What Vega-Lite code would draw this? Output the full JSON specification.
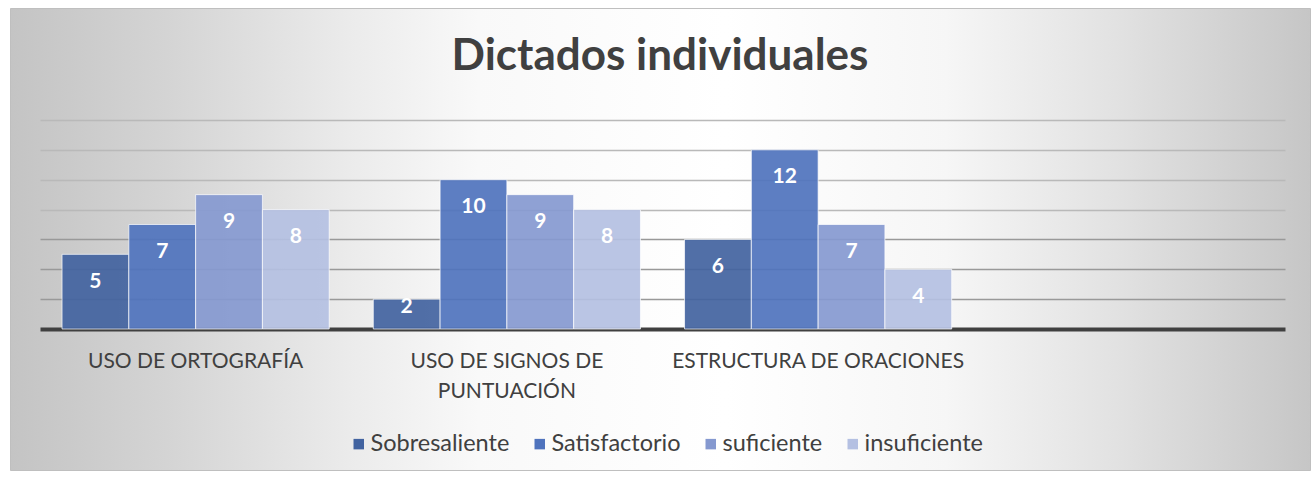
{
  "$schema": "https://vega.github.io/schema/vega-lite/v6.json",
  "width": 1300,
  "height": 462,
  "autosize": {"type": "none"},
  "padding": {"left": 10, "top": 8, "right": 5, "bottom": 7},
  "background": "white",
  "title": {
    "text": "Dictados individuales",
    "anchor": "middle",
    "frame": "group",
    "baseline": "alphabetic",
    "offset": -106,
    "font": "Lato",
    "fontSize": 44,
    "fontWeight": "bold",
    "color": "#404040"
  },
  "config": {
    "font": "Lato",
    "view": {
      "stroke": "#bfbfbf",
      "strokeWidth": 1,
      "fill": {
        "gradient": "linear",
        "x1": 0, "y1": 0.5, "x2": 1, "y2": 0.5,
        "stops": [
          {"offset": 0, "color": "#c4c4c4"},
          {"offset": 0.12, "color": "#d4d4d4"},
          {"offset": 0.26, "color": "#ebebeb"},
          {"offset": 0.36, "color": "#f9f9f9"},
          {"offset": 0.55, "color": "#ffffff"},
          {"offset": 0.72, "color": "#f6f6f6"},
          {"offset": 0.85, "color": "#e2e2e2"},
          {"offset": 1, "color": "#c6c6c6"}
        ]
      }
    }
  },
  "data": {
    "values": [
      {"categoria": "USO DE ORTOGRAFÍA", "nivel": "Sobresaliente", "valor": 5},
      {"categoria": "USO DE ORTOGRAFÍA", "nivel": "Satisfactorio", "valor": 7},
      {"categoria": "USO DE ORTOGRAFÍA", "nivel": "suficiente", "valor": 9},
      {"categoria": "USO DE ORTOGRAFÍA", "nivel": "insuficiente", "valor": 8},
      {"categoria": "USO DE SIGNOS DE PUNTUACIÓN", "nivel": "Sobresaliente", "valor": 2},
      {"categoria": "USO DE SIGNOS DE PUNTUACIÓN", "nivel": "Satisfactorio", "valor": 10},
      {"categoria": "USO DE SIGNOS DE PUNTUACIÓN", "nivel": "suficiente", "valor": 9},
      {"categoria": "USO DE SIGNOS DE PUNTUACIÓN", "nivel": "insuficiente", "valor": 8},
      {"categoria": "ESTRUCTURA DE ORACIONES", "nivel": "Sobresaliente", "valor": 6},
      {"categoria": "ESTRUCTURA DE ORACIONES", "nivel": "Satisfactorio", "valor": 12},
      {"categoria": "ESTRUCTURA DE ORACIONES", "nivel": "suficiente", "valor": 7},
      {"categoria": "ESTRUCTURA DE ORACIONES", "nivel": "insuficiente", "valor": 4}
    ]
  },
  "encoding": {
    "x": {
      "field": "categoria",
      "type": "nominal",
      "scale": {
        "domain": ["USO DE ORTOGRAFÍA", "USO DE SIGNOS DE PUNTUACIÓN", "ESTRUCTURA DE ORACIONES", " "],
        "range": [30, 1275],
        "paddingInner": 0,
        "paddingOuter": 0
      },
      "axis": {
        "title": null,
        "orient": "bottom",
        "offset": -141,
        "domainColor": "#404040",
        "domainWidth": 4,
        "ticks": false,
        "grid": false,
        "labelAngle": 0,
        "labelFont": "Lato",
        "labelFontSize": 21,
        "labelColor": "#404040",
        "labelPadding": 21,
        "labelLineHeight": 30,
        "labelLimit": 400,
        "labelOverlap": false,
        "labelExpr": "datum.value == 'USO DE SIGNOS DE PUNTUACIÓN' ? ['USO DE SIGNOS DE', 'PUNTUACIÓN'] : datum.value"
      }
    },
    "xOffset": {
      "field": "nivel",
      "type": "nominal",
      "sort": ["Sobresaliente", "Satisfactorio", "suficiente", "insuficiente"],
      "scale": {"paddingInner": 0, "paddingOuter": 0.33}
    }
  },
  "layer": [
    {
      "mark": {"type": "bar", "stroke": "white", "strokeWidth": 1, "strokeOpacity": 0.7, "fillOpacity": 0.92},
      "encoding": {
        "y": {
          "field": "valor",
          "type": "quantitative",
          "scale": {"domain": [0, 14], "range": [321, 112], "nice": false},
          "axis": {
            "title": null,
            "labels": false,
            "ticks": false,
            "domain": false,
            "values": [2, 4, 6, 8, 10, 12, 14],
            "grid": true,
            "gridColor": {"condition": {"test": "datum.value <= 6", "value": "#999999"}, "value": "#b9b9b9"},
            "gridWidth": 1.5
          }
        },
        "color": {
          "field": "nivel",
          "type": "nominal",
          "scale": {
            "domain": ["Sobresaliente", "Satisfactorio", "suficiente", "insuficiente"],
            "range": ["#4263a0", "#4f73bd", "#8599d0", "#b4c0e2"]
          },
          "legend": {
            "title": null,
            "orient": "none",
            "legendX": 337,
            "legendY": 424,
            "direction": "horizontal",
            "symbolType": "square",
            "symbolSize": 110,
            "symbolStrokeWidth": 0,
            "labelFont": "Lato",
            "labelFontSize": 23.5,
            "labelColor": "#404040",
            "columnPadding": 18,
            "labelOffset": 0,
            "padding": 0
          }
        }
      }
    },
    {
      "transform": [{"calculate": "max(datum.valor - 1.83, 1.47)", "as": "pos"}],
      "mark": {"type": "text", "color": "white", "font": "Lato", "fontWeight": "bold", "fontSize": 21, "baseline": "middle", "align": "center"},
      "encoding": {
        "y": {"field": "pos", "type": "quantitative"},
        "text": {"field": "valor", "type": "quantitative"}
      }
    }
  ]
}
